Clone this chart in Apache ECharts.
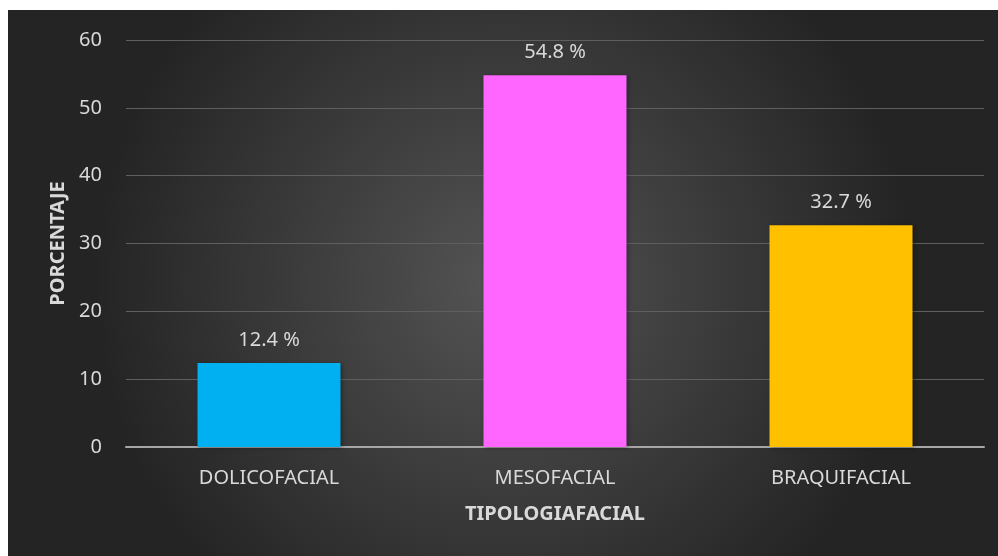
<!DOCTYPE html>
<html>
<head>
<meta charset="utf-8">
<script src="https://cdn.jsdelivr.net/npm/echarts@6/dist/echarts.min.js"></script>
<style>
  html, body { margin: 0; padding: 0; background: #fff; }
  #chart { position: absolute; left: 8px; top: 10px; width: 990px; height: 546px; }
</style>
</head>
<body>
<div id="chart"></div>
<script>
var categories = ['DOLICOFACIAL', 'MESOFACIAL', 'BRAQUIFACIAL'];
var values = [12.4, 54.8, 32.7];
var barColors = ['#00B0F0', '#FF66FF', '#FFC000'];
var yTicks = { min: 0, max: 60, interval: 10 };

var myBar = echarts.init(document.getElementById('chart'));
var font = '"Noto Sans", "Open Sans", sans-serif';
var option = {
  backgroundColor: {
    type: 'radial', x: 0.5, y: 0.5, r: 0.75,
    colorStops: [
      { offset: 0, color: '#545454' },
      { offset: 1, color: '#242424' }
    ]
  },
  animation: false,
  grid: { left: 118, right: 14, top: 30, bottom: 109 },
  xAxis: {
    type: 'category',
    data: categories,
    name: 'TIPOLOGIAFACIAL',
    nameLocation: 'middle',
    nameGap: 57,
    nameTextStyle: { color: '#d9d9d9', fontSize: 20, fontWeight: 'bold', fontFamily: font },
    axisLine: { lineStyle: { color: '#a6a6a6', width: 2 } },
    axisTick: { show: false },
    axisLabel: { color: '#d9d9d9', fontSize: 20, margin: 21, fontFamily: font }
  },
  yAxis: {
    type: 'value',
    min: yTicks.min,
    max: yTicks.max,
    interval: yTicks.interval,
    name: 'PORCENTAJE',
    nameLocation: 'middle',
    nameGap: 58,
    nameTextStyle: { color: '#d9d9d9', fontSize: 20, fontWeight: 'bold', fontFamily: font },
    axisLine: { show: false },
    axisTick: { show: false },
    axisLabel: { color: '#d9d9d9', fontSize: 20, margin: 24, fontFamily: font },
    splitLine: { lineStyle: { color: '#5f5f5f', width: 1 } }
  },
  series: [{
    type: 'bar',
    barWidth: '50%',
    data: values.map(function (v, i) {
      return { value: v, itemStyle: { color: barColors[i] } };
    }),
    itemStyle: { shadowColor: 'rgba(0,0,0,0.35)', shadowBlur: 4, shadowOffsetX: 1, shadowOffsetY: 1 },
    label: {
      show: true,
      position: 'top',
      distance: 13,
      color: '#d9d9d9',
      fontSize: 20,
      fontFamily: font,
      formatter: function (p) { return p.value + ' %'; }
    }
  }]
};
myBar.setOption(option);
</script>
</body>
</html>
